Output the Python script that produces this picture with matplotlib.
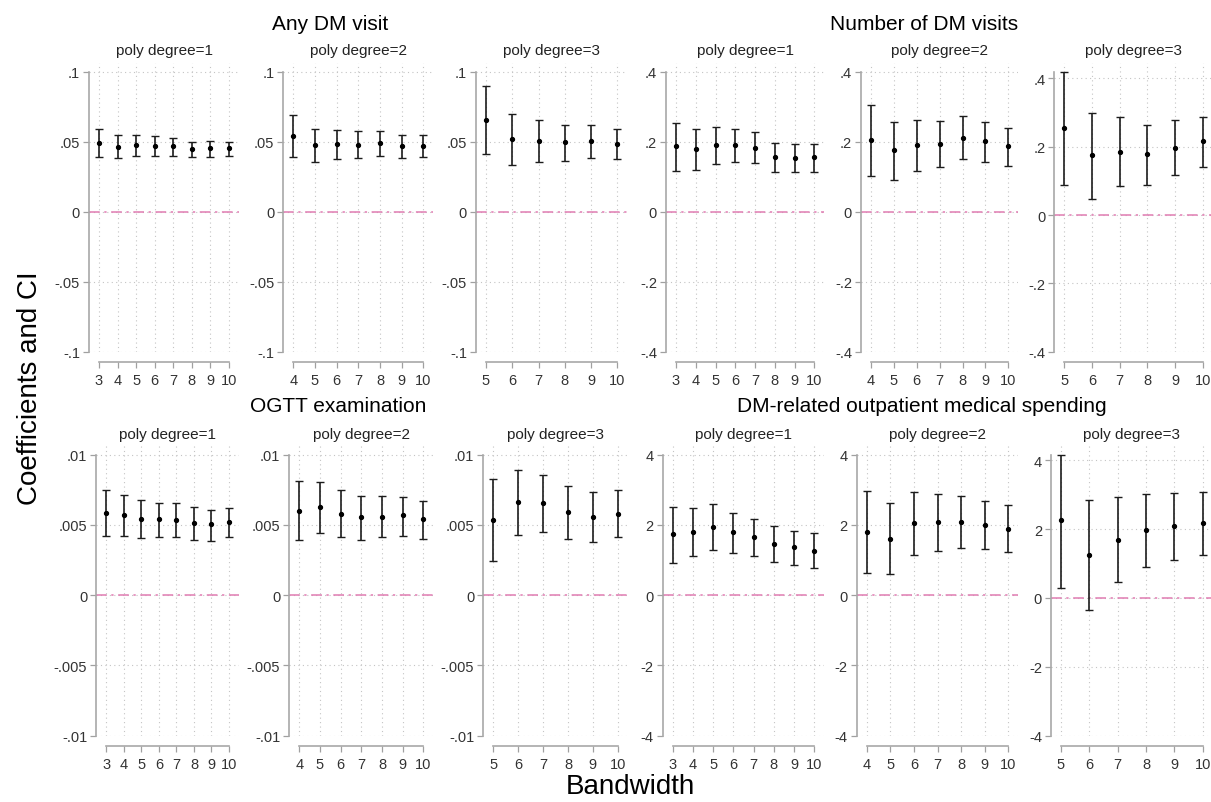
import matplotlib.pyplot as plt

plt.rcParams['font.family'] = ['Liberation Sans', 'DejaVu Sans']

# bandwidths for each polynomial degree
bw_p1 = [3, 4, 5, 6, 7, 8, 9, 10]
bw_p2 = [4, 5, 6, 7, 8, 9, 10]
bw_p3 = [5, 6, 7, 8, 9, 10]

# Any DM visit
any_coef = [[0.049, 0.0462, 0.0476, 0.0469, 0.0469, 0.0445, 0.0457, 0.0452],
            [0.0543, 0.0476, 0.0483, 0.0476, 0.049, 0.0469, 0.0469],
            [0.0655, 0.0517, 0.0502, 0.0495, 0.0502, 0.0481]]
any_lo = [[0.0388, 0.0381, 0.040, 0.040, 0.040, 0.039, 0.0393, 0.0395],
          [0.0388, 0.0352, 0.0374, 0.0381, 0.040, 0.0381, 0.0388],
          [0.0412, 0.0331, 0.0352, 0.036, 0.0381, 0.0374]]
any_hi = [[0.0588, 0.0545, 0.0545, 0.0538, 0.0524, 0.050, 0.0507, 0.050],
          [0.069, 0.0593, 0.0586, 0.0574, 0.0574, 0.0545, 0.0545],
          [0.0895, 0.0698, 0.0652, 0.0617, 0.0617, 0.0593]]
any_ticks = [-0.1, -0.05, 0, 0.05, 0.1]
any_labels = ['-.1', '-.05', '0', '.05', '.1']

# Number of DM visits
num_coef = [[0.186, 0.18, 0.19, 0.19, 0.183, 0.156, 0.154, 0.156],
            [0.204, 0.175, 0.189, 0.193, 0.211, 0.202, 0.186],
            [0.256, 0.175, 0.185, 0.178, 0.196, 0.216]]
num_lo = [[0.117, 0.12, 0.135, 0.141, 0.138, 0.112, 0.112, 0.114],
          [0.101, 0.091, 0.115, 0.126, 0.15, 0.141, 0.129],
          [0.089, 0.048, 0.084, 0.089, 0.116, 0.141]]
num_hi = [[0.252, 0.237, 0.242, 0.237, 0.226, 0.197, 0.194, 0.194],
          [0.303, 0.255, 0.261, 0.258, 0.273, 0.255, 0.239],
          [0.42, 0.299, 0.288, 0.262, 0.277, 0.288]]
num_ticks = [-0.4, -0.2, 0, 0.2, 0.4]
num_labels = ['-.4', '-.2', '0', '.2', '.4']

# OGTT examination
ogtt_coef = [[0.00585, 0.00573, 0.0054, 0.0054, 0.00536, 0.00512, 0.00507, 0.00519],
             [0.0060, 0.00628, 0.00578, 0.00555, 0.00559, 0.00569, 0.00543],
             [0.00533, 0.00664, 0.00656, 0.00592, 0.00559, 0.00578]]
ogtt_lo = [[0.0042, 0.00424, 0.00405, 0.00412, 0.00417, 0.00396, 0.00389, 0.00412],
           [0.00391, 0.00443, 0.00412, 0.00391, 0.00412, 0.0042, 0.00398],
           [0.00244, 0.00431, 0.00448, 0.00398, 0.00377, 0.00412]]
ogtt_hi = [[0.00749, 0.00713, 0.00675, 0.00659, 0.00654, 0.00628, 0.00609, 0.00623],
           [0.00815, 0.00806, 0.00746, 0.00706, 0.00706, 0.00699, 0.00673],
           [0.00827, 0.00893, 0.00858, 0.0078, 0.00735, 0.00746]]
ogtt_ticks = [-0.01, -0.005, 0, 0.005, 0.01]
ogtt_labels = ['-.01', '-.005', '0', '.005', '.01']

# DM-related outpatient medical spending
spend_coef = [[1.744, 1.81, 1.95, 1.79, 1.66, 1.47, 1.36, 1.26],
              [1.79, 1.60, 2.05, 2.08, 2.08, 2.0, 1.89],
              [2.26, 1.26, 1.69, 1.96, 2.10, 2.18]]
spend_lo = [[0.93, 1.11, 1.30, 1.19, 1.11, 0.95, 0.85, 0.77],
            [0.62, 0.59, 1.15, 1.25, 1.33, 1.31, 1.22],
            [0.30, -0.35, 0.46, 0.89, 1.11, 1.25]]
spend_hi = [[2.51, 2.49, 2.59, 2.35, 2.17, 1.96, 1.84, 1.77],
            [2.96, 2.62, 2.93, 2.88, 2.83, 2.69, 2.57],
            [4.16, 2.84, 2.93, 3.03, 3.06, 3.08]]
spend_ticks = [-4, -2, 0, 2, 4]
spend_labels = ['-4', '-2', '0', '2', '4']

W, H = 1211, 803
fig = plt.figure(figsize=(W / 100, H / 100), dpi=100)

bws = [bw_p1, bw_p2, bw_p3]


def draw_panel(left, last, top, bottom, xs, coef, lo, hi, ticks, labels, sub):
    pad = 10
    toppad = 9
    first = left + pad
    right = last + pad
    ppu = (last - first) / (xs[-1] - xs[0])
    ymin = ticks[0]
    ymax = max(ticks[-1], max(hi))
    ypp = (ymax - ymin) / (bottom - top)
    ax = fig.add_axes([left / W, 1 - bottom / H, (right - left) / W, (bottom - top + toppad) / H])
    ax.set_xlim(xs[0] - pad / ppu, xs[-1] + pad / ppu)
    ax.set_ylim(ymin, ymax + toppad * ypp)

    yerr = [[c - l for c, l in zip(coef, lo)], [h - c for c, h in zip(coef, hi)]]
    ax.errorbar(xs, coef, yerr=yerr, fmt='o', ms=2.8, color='black', ecolor='#1c1c1c',
                elinewidth=1.2, capsize=2.6, capthick=1.0, zorder=3)
    ax.axhline(0, color='#e07cb2', lw=1.1, linestyle=(0, (7, 3, 1.5, 3)), zorder=2)

    ax.set_xticks(xs)
    ax.set_yticks(ticks, labels)
    ax.grid(True, color='#c4c4c4', linestyle=(0, (1, 3)), lw=0.8)
    ax.set_axisbelow(True)
    for s in ['top', 'right']:
        ax.spines[s].set_visible(False)
    ax.spines['left'].set_bounds(ymin, ymax)
    ax.spines['bottom'].set_bounds(xs[0], xs[-1])
    ax.spines['bottom'].set_position(('outward', 7.2))
    for s in ['left', 'bottom']:
        ax.spines[s].set_color('#a8a8a8')
        ax.spines[s].set_linewidth(1.2)
    ax.tick_params(axis='both', length=4.5, width=0.9, color='#a0a0a0',
                   labelsize=10.5, labelcolor='#333333', pad=2)
    ax.tick_params(axis='x', pad=3.5)

    fig.text((left + right) / 2 / W, 1 - (top - 21) / H, sub, ha='center', va='center',
             fontsize=11, color='#222222')


# panel placement in pixels: (y-axis x, last x-tick x)
top_pos = [(89, 229), (283.3, 423.3), (476, 617.3), (666, 814.3), (861, 1008.3), (1054.3, 1202.7)]
bot_pos = [(96.3, 229), (289.3, 423.3), (483.3, 617.7), (662.7, 814.3), (856.7, 1008.3), (1051, 1202.7)]

rows = [
    (top_pos, 72.5, 352.7, [(any_coef, any_lo, any_hi, any_ticks, any_labels),
                            (num_coef, num_lo, num_hi, num_ticks, num_labels)]),
    (bot_pos, 455.7, 736.7, [(ogtt_coef, ogtt_lo, ogtt_hi, ogtt_ticks, ogtt_labels),
                             (spend_coef, spend_lo, spend_hi, spend_ticks, spend_labels)]),
]

for pos, top, bottom, outs in rows:
    for k, (coef, lo, hi, ticks, labels) in enumerate(outs):
        for d in range(3):
            left, last = pos[k * 3 + d]
            draw_panel(left, last, top, bottom, bws[d], coef[d], lo[d], hi[d],
                       ticks, labels, 'poly degree=%d' % (d + 1))

# outcome titles
fig.text(330 / W, 1 - 24 / H, 'Any DM visit', ha='center', va='center', fontsize=15)
fig.text(924 / W, 1 - 24 / H, 'Number of DM visits', ha='center', va='center', fontsize=15)
fig.text(338 / W, 1 - 407 / H, 'OGTT examination', ha='center', va='center', fontsize=15)
fig.text(922 / W, 1 - 407 / H, 'DM-related outpatient medical spending', ha='center', va='center', fontsize=15)

fig.text(30 / W, 1 - 388 / H, 'Coefficients and CI', ha='center', va='center', rotation=90, fontsize=20)
fig.text(630 / W, 1 - 787 / H, 'Bandwidth', ha='center', va='center', fontsize=20)

fig.savefig('out.png', dpi=100)
